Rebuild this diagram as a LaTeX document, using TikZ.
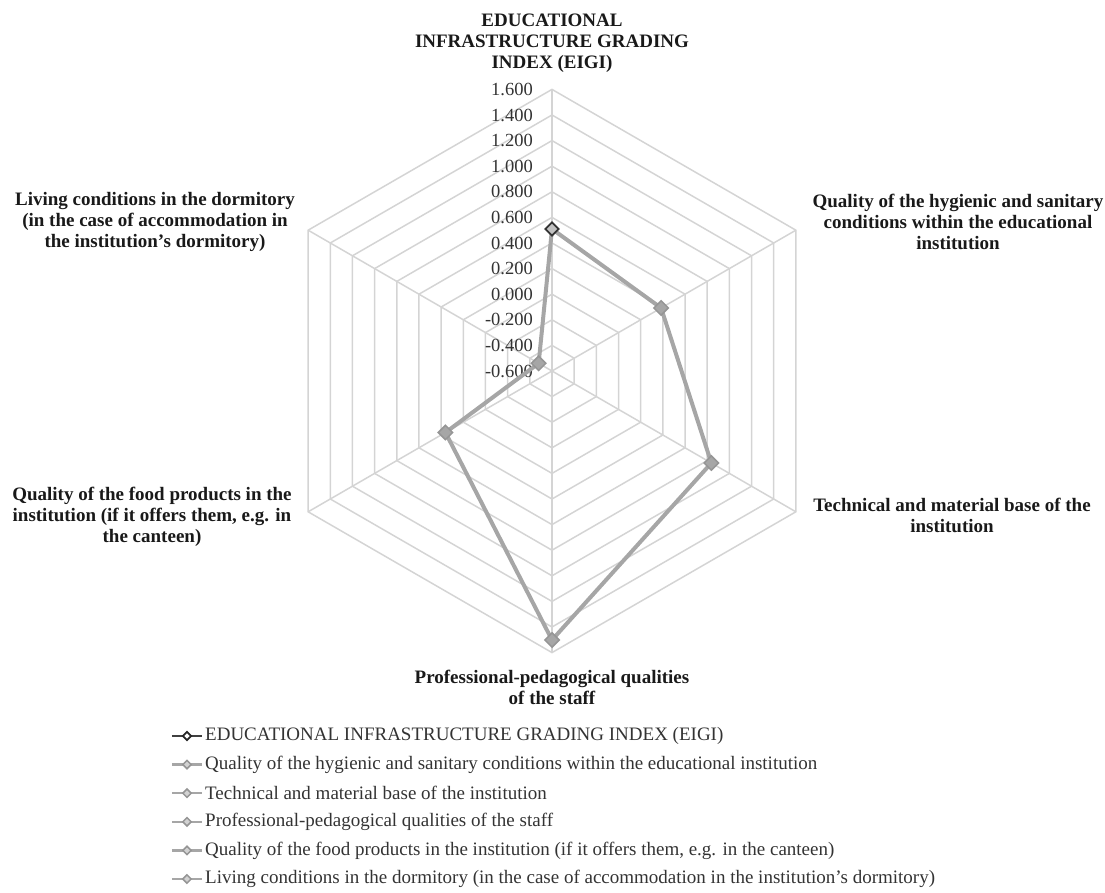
\documentclass[tikz,border=0pt]{standalone}
\usepackage{fontspec}
\setmainfont{Liberation Serif}
\usetikzlibrary{shapes.geometric}
\definecolor{gridgray}{HTML}{D4D4D4}
\definecolor{seriesgray}{HTML}{A6A6A6}
\definecolor{markgray}{HTML}{959595}
\begin{document}
\begin{tikzpicture}[x=1pt,y=1pt,
  grid/.style={draw=gridgray,line width=1.5pt},
  tick/.style={anchor=east,inner sep=0pt,font=\fontsize{18.5}{21}\selectfont,text=black!80},
  axislabel/.style={align=center,inner sep=0pt,font=\fontsize{19}{21}\selectfont\bfseries,text=black!90},
  series/.style={draw=seriesgray,line width=4pt,line join=round},
  mk/.style={diamond,draw=markgray,fill=seriesgray,line width=1.5pt,inner sep=0pt,minimum size=15pt},
  mkfirst/.style={diamond,draw=black!80,fill=seriesgray!70,line width=1.8pt,inner sep=0pt,minimum size=14pt},
  legline/.style={line width=2.5pt},
  legmk/.style={diamond,draw=markgray,fill=seriesgray!50,line width=1.5pt,inner sep=0pt,minimum size=9pt},
  legtext/.style={anchor=west,inner sep=0pt,font=\fontsize{19}{21}\selectfont,text=black!80}]
\useasboundingbox (-552,371) rectangle (553,-522);
% rings and spokes
\foreach \k in {1,...,11}
  \draw[grid] (90:{\k*25.6}) -- (30:{\k*25.6}) -- (-30:{\k*25.6}) -- (-90:{\k*25.6}) -- (-150:{\k*25.6}) -- (150:{\k*25.6}) -- cycle;
\foreach \a in {90,30,-30,-90,-150,150} \draw[grid] (0,0) -- (\a:281.6);
% scale
\foreach \v [count=\k from 0] in {-0.600,-0.400,-0.200,0.000,0.200,0.400,0.600,0.800,1.000,1.200,1.400,1.600}
  \node[tick] (t\k) at (-19,{\k*25.6}) {\v};
% values
\coordinate (eigi) at (90:142);
\coordinate (hyg) at (30:126);
\coordinate (tech) at (-30:184);
\coordinate (staff) at (-90:269);
\coordinate (food) at (-150:123);
\coordinate (dorm) at (150:15.4);
\draw[series] (eigi) -- (hyg) -- (tech) -- (staff) -- (food) -- (dorm) -- cycle;
\foreach \p in {hyg,tech,staff,food,dorm} \node[mk] (m-\p) at (\p) {};
\node[mkfirst] (m-eigi) at (eigi) {};
% axis labels
\node[axislabel] (l-eigi) at (0,328) {EDUCATIONAL\\INFRASTRUCTURE GRADING\\INDEX (EIGI)};
\node[axislabel] (l-hyg) at (406,149) {Quality of the hygienic and sanitary\\conditions within the educational\\institution};
\node[axislabel] (l-tech) at (400,-144.5) {Technical and material base of the\\institution};
\node[axislabel] (l-staff) at (0,-316.5) {Professional-pedagogical qualities\\of the staff};
\node[axislabel] (l-food) at (-400,-146) {Quality of the food products in the\\institution (if it offers them, e.g. in\\the canteen)};
\node[axislabel] (l-dorm) at (-397,149) {Living conditions in the dormitory\\(in the case of accommodation in\\the institution's dormitory)};
% legend
\coordinate (g0a) at (-380,-365);
\coordinate (g0b) at (-350,-365);
\draw[legline,draw=black!75] (g0a) -- (g0b);
\node[legmk,draw=black!85,fill=white,line width=1.8pt] (gm0) at (-365,-365) {};
\node[legtext] (g0) at (-347,-365) {EDUCATIONAL INFRASTRUCTURE GRADING INDEX (EIGI)};
\foreach \t [count=\i from 1] in {{Quality of the hygienic and sanitary conditions within the educational institution},
    {Technical and material base of the institution},
    {Professional-pedagogical qualities of the staff},
    {Quality of the food products in the institution (if it offers them, e.g. in the canteen)},
    {Living conditions in the dormitory (in the case of accommodation in the institution's dormitory)}}
  {
  \coordinate (g\i a) at (-380,{-365-\i*28.6});
  \coordinate (g\i b) at (-350,{-365-\i*28.6});
  \draw[legline,draw=seriesgray] (g\i a) -- (g\i b);
  \node[legmk] (gm\i) at (-365,{-365-\i*28.6}) {};
  \node[legtext] (g\i) at (-347,{-365-\i*28.6}) {\t};
  }
\end{tikzpicture}
\end{document}
